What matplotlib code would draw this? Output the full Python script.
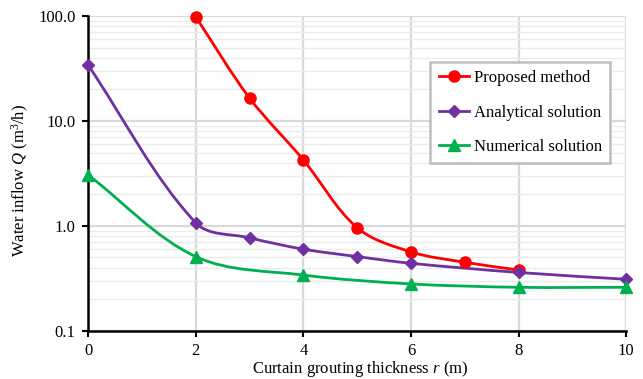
import numpy as np
import matplotlib
matplotlib.use('Agg')
import matplotlib.pyplot as plt
from matplotlib.path import Path
from matplotlib.patches import PathPatch
from matplotlib.lines import Line2D
from matplotlib.ticker import FixedLocator, LogLocator, NullFormatter

plt.rcParams['font.family'] = 'Liberation Serif'
plt.rcParams['mathtext.fontset'] = 'custom'
plt.rcParams['mathtext.rm'] = 'Liberation Serif'
plt.rcParams['mathtext.it'] = 'Liberation Serif:italic'

# ---------------- data ----------------
x_prop = [2, 3, 4, 5, 6, 7, 8]
q_prop = [98.0, 16.5, 4.25, 0.96, 0.565, 0.45, 0.38]

x_anal = [0, 2, 3, 4, 5, 6, 8, 10]
q_anal = [34.0, 1.07, 0.77, 0.60, 0.51, 0.44, 0.36, 0.31]

x_num = [0, 2, 4, 6, 8, 10]
q_num = [3.06, 0.51, 0.34, 0.28, 0.26, 0.26]

series = [
    ('Proposed method', x_prop, q_prop, '#FF0000', 'o', 8),
    ('Analytical solution', x_anal, q_anal, '#7030A0', 'D', 6.5),
    ('Numerical solution', x_num, q_num, '#00B050', '^', 8.5),
]

# screen scale (px per x unit, px per decade) used to shape the smoothing
SX, SY = 53.8, 105.0


def smooth_path(xs, ys):
    """Spreadsheet-style smoothed line: bezier segments whose handles follow
    the neighbour chord and scale with each segment's own length."""
    p = np.column_stack([np.asarray(xs, float) * SX,
                         np.log10(np.asarray(ys, float)) * SY])
    n = len(p)
    tang = []
    for i in range(n):
        d = p[min(i + 1, n - 1)] - p[max(i - 1, 0)]
        tang.append(d / np.hypot(*d))
    to_data = lambda q: (q[0] / SX, 10 ** (q[1] / SY))
    verts = [to_data(p[0])]
    codes = [Path.MOVETO]
    for i in range(n - 1):
        seg = np.hypot(*(p[i + 1] - p[i])) / 3
        c1 = p[i] + tang[i] * seg
        c2 = p[i + 1] - tang[i + 1] * seg
        verts += [to_data(c1), to_data(c2), to_data(p[i + 1])]
        codes += [Path.CURVE4] * 3
    return Path(verts, codes)


fig = plt.figure(figsize=(6.43, 3.79), dpi=100)
ax = fig.add_axes([0.137, 0.127, 0.837, 0.831])
ax.set_yscale('log')
ax.set_xlim(0, 10)
ax.set_ylim(0.1, 100)

handles = []
for name, xs, ys, col, mk, ms in series:
    ax.add_patch(PathPatch(smooth_path(xs, ys), fill=False, edgecolor=col,
                           lw=2.0, zorder=3, clip_on=False))
    ax.plot(xs, ys, ls='none', marker=mk, ms=ms, color=col, zorder=4,
            clip_on=False)
    handles.append(Line2D([], [], color=col, lw=2.0, marker=mk, ms=ms))

# axes and grid
ax.xaxis.set_major_locator(FixedLocator([0, 2, 4, 6, 8, 10]))
ax.yaxis.set_major_locator(FixedLocator([0.1, 1, 10, 100]))
ax.yaxis.set_minor_locator(LogLocator(base=10, subs=np.arange(2, 10)))
ax.yaxis.set_minor_formatter(NullFormatter())
ax.set_yticklabels(['0.1', '1.0', '10.0', '100.0'])
ax.grid(True, which='major', color='#D9D9D9', lw=1.6, zorder=0)
ax.grid(True, which='minor', axis='y', color='#EBEBEB', lw=1.0, zorder=0)
ax.set_axisbelow(True)
for s in ('top', 'right'):
    ax.spines[s].set_visible(False)
for s in ('left', 'bottom'):
    ax.spines[s].set_linewidth(1.8)
ax.tick_params(which='major', direction='out', length=4, width=1.5,
               labelsize=12, pad=5)
ax.tick_params(which='minor', length=0)

ax.set_xlabel('Curtain grouting thickness $r$ (m)', fontsize=12)
ax.xaxis.set_label_coords(0.506, -0.122)
ax.xaxis.label.set_va('center')
ax.set_ylabel('Water inflow $Q$ (m$^3$/h)', fontsize=12)
ax.yaxis.set_label_coords(-0.126, 0.479)
ax.yaxis.label.set_va('center')

leg = ax.legend(handles, [s[0] for s in series], loc='upper left',
                bbox_to_anchor=(0.636, 0.854), borderaxespad=0, fontsize=12,
                fancybox=False, framealpha=1, edgecolor='#BFBFBF',
                handlelength=1.8, labelspacing=1.1, borderpad=0.5,
                handletextpad=0.3)
leg.get_frame().set_linewidth(1.8)

fig.savefig('out.png', dpi=100)
